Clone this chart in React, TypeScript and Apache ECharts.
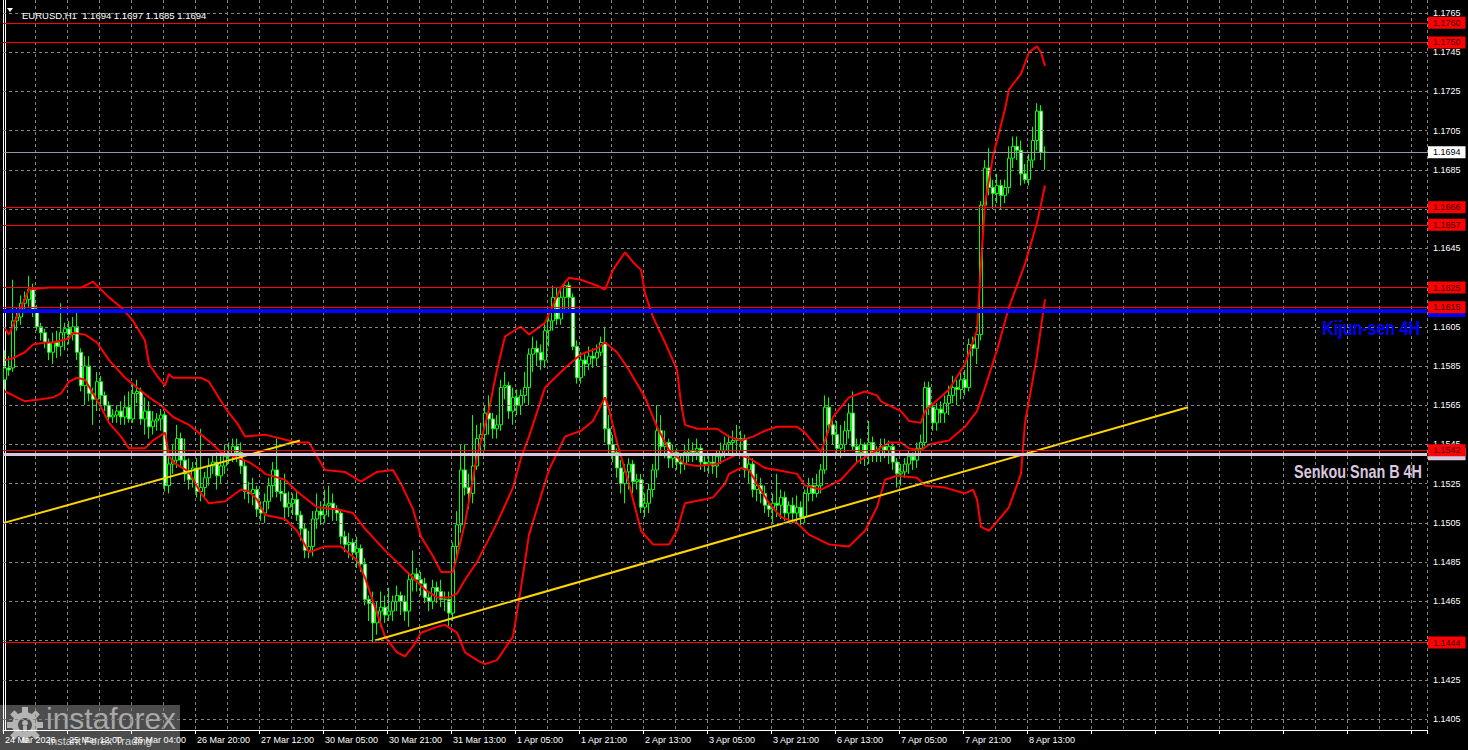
import React, { useEffect, useRef } from "react";
import * as echarts from "echarts";

// Prices are stored in 1/10000 units (e.g. 11584 -> 1.1584), written without the leading "1" => 1584 -> 1.1584
const px = (v: number) => +(1.1 + (v - 1000) / 10000).toFixed(5);

const TITLE = "EURUSD,H1  1.1694 1.1697 1.1685 1.1694";
const BAR_SLOTS = 356;
const TICK_LABELS = [
  "24 Mar 2026", "25 Mar 12:00", "26 Mar 04:00", "26 Mar 20:00", "27 Mar 12:00",
  "30 Mar 05:00", "30 Mar 21:00", "31 Mar 13:00", "1 Apr 05:00", "1 Apr 21:00",
  "2 Apr 13:00", "3 Apr 05:00", "3 Apr 21:00", "6 Apr 13:00", "7 Apr 05:00",
  "7 Apr 21:00", "8 Apr 13:00",
];
const Y_TICKS = [
  1.1405, 1.1425, 1.1445, 1.1465, 1.1485, 1.1505, 1.1525, 1.1545, 1.1565, 1.1585,
  1.1605, 1.1625, 1.1645, 1.1665, 1.1685, 1.1705, 1.1725, 1.1745, 1.1765,
];
const Y_MIN = 1.139939;
const Y_MAX = 1.177163;
const RED_LEVELS = [1.176, 1.175, 1.1666, 1.1657, 1.1625, 1.1615, 1.1542, 1.1444];
const KIJUN = 1.1613;
const SENKOU_B = 1.154;
const LAST_PRICE = 1.1694;

// [open, close, low, high]
const CANDLES = [
  [1578,1584,1573,1593],[1584,1583,1580,1590],[1584,1608,1582,1629],[1608,1610,1603,1615],[1610,1617,1606,1621],
  [1617,1619,1612,1623],[1619,1624,1615,1631],[1624,1613,1610,1627],[1613,1605,1603,1616],[1605,1602,1598,1607],
  [1602,1597,1594,1604],[1597,1592,1588,1599],[1592,1597,1586,1602],[1597,1595,1589,1603],[1595,1602,1590,1617],
  [1602,1604,1593,1607],[1604,1601,1596,1608],[1601,1605,1598,1610],[1605,1592,1588,1612],[1592,1575,1572,1594],
  [1575,1585,1565,1590],[1585,1571,1567,1590],[1571,1568,1555,1574],[1568,1577,1562,1582],[1577,1570,1564,1580],
  [1570,1565,1562,1572],[1565,1559,1556,1567],[1559,1560,1556,1563],[1560,1562,1556,1565],[1562,1559,1555,1567],
  [1559,1564,1555,1570],[1564,1558,1556,1572],[1558,1571,1556,1576],[1571,1572,1566,1578],[1572,1558,1555,1574],
  [1558,1562,1550,1569],[1562,1554,1548,1567],[1554,1557,1550,1562],[1557,1558,1552,1561],[1558,1560,1552,1563],
  [1560,1524,1521,1562],[1524,1535,1520,1540],[1535,1537,1530,1545],[1537,1548,1533,1555],[1548,1537,1533,1551],
  [1537,1530,1526,1548],[1530,1527,1522,1538],[1527,1533,1523,1536],[1533,1521,1518,1538],[1521,1523,1516,1553],
  [1523,1528,1518,1531],[1528,1534,1524,1538],[1534,1536,1530,1540],[1536,1529,1522,1541],[1529,1534,1525,1539],
  [1534,1539,1530,1545],[1539,1540,1535,1546],[1540,1544,1536,1548],[1544,1541,1536,1548],[1541,1534,1530,1546],
  [1534,1521,1517,1537],[1521,1520,1515,1526],[1520,1522,1514,1528],[1522,1512,1508,1524],[1512,1510,1506,1516],
  [1510,1516,1505,1520],[1516,1524,1512,1528],[1524,1532,1518,1536],[1532,1521,1518,1548],[1521,1520,1516,1527],
  [1520,1513,1506,1530],[1513,1515,1508,1521],[1515,1517,1509,1520],[1517,1509,1506,1521],[1509,1502,1496,1511],
  [1502,1491,1487,1505],[1491,1493,1487,1501],[1493,1507,1488,1511],[1507,1511,1502,1520],[1511,1509,1504,1516],
  [1509,1514,1505,1522],[1514,1515,1508,1524],[1515,1512,1506,1520],[1512,1510,1506,1514],[1510,1498,1494,1512],
  [1498,1494,1490,1501],[1494,1495,1487,1500],[1495,1490,1486,1497],[1490,1492,1482,1498],[1492,1484,1480,1494],
  [1484,1466,1463,1487],[1466,1464,1455,1468],[1464,1454,1444,1470],[1454,1460,1448,1465],[1460,1462,1452,1470],
  [1462,1458,1454,1468],[1458,1460,1455,1472],[1460,1465,1455,1468],[1465,1468,1460,1473],[1468,1465,1458,1470],
  [1465,1460,1455,1468],[1460,1476,1452,1480],[1476,1479,1470,1491],[1479,1476,1470,1482],[1476,1474,1468,1480],
  [1474,1467,1464,1477],[1467,1465,1460,1470],[1465,1472,1461,1476],[1472,1470,1464,1475],[1470,1466,1462,1476],
  [1466,1466,1460,1470],[1466,1459,1452,1470],[1459,1493,1455,1495],[1493,1504,1488,1511],[1504,1532,1500,1545],
  [1532,1523,1519,1545],[1523,1520,1512,1530],[1520,1534,1515,1560],[1534,1548,1532,1555],[1548,1550,1540,1556],
  [1550,1561,1542,1565],[1561,1558,1550,1570],[1558,1553,1548,1561],[1553,1555,1548,1560],[1555,1574,1552,1578],
  [1574,1575,1568,1582],[1575,1562,1558,1577],[1562,1569,1555,1574],[1569,1565,1560,1573],[1565,1570,1560,1573],
  [1570,1574,1566,1582],
  [1574,1591,1565,1594],[1591,1594,1582,1600],[1594,1592,1585,1598],[1592,1588,1583,1596],[1588,1603,1584,1607],
  [1603,1608,1595,1612],[1608,1620,1603,1626],[1620,1609,1606,1625],[1609,1620,1606,1624],[1620,1626,1612,1628],
  [1626,1620,1614,1628],[1620,1595,1593,1622],[1595,1579,1576,1598],[1579,1588,1576,1592],[1588,1586,1580,1591],
  [1586,1590,1583,1595],[1590,1589,1584,1594],[1589,1592,1585,1596],[1592,1597,1590,1600],[1597,1553,1546,1605],
  [1553,1545,1540,1560],[1545,1541,1536,1550],[1541,1533,1528,1543],[1533,1525,1520,1537],[1525,1531,1515,1535],
  [1531,1535,1522,1538],[1535,1526,1520,1537],[1526,1527,1522,1530],[1527,1513,1510,1530],[1513,1515,1508,1520],
  [1515,1522,1510,1525],[1522,1532,1518,1535],[1532,1552,1528,1565],[1552,1544,1540,1560],[1544,1546,1538,1552],
  [1546,1538,1533,1548],[1538,1541,1533,1545],[1541,1536,1532,1543],[1536,1535,1530,1540],[1535,1541,1532,1545],
  [1541,1542,1536,1548],[1542,1541,1536,1546],[1541,1543,1537,1548],[1543,1536,1532,1545],[1536,1535,1531,1539],
  [1535,1536,1530,1540],[1536,1534,1530,1540],[1534,1539,1528,1542],[1539,1542,1535,1546],[1542,1545,1538,1549],
  [1545,1546,1540,1550],[1546,1547,1540,1552],[1547,1548,1540,1555],[1548,1548,1542,1552],[1548,1532,1528,1550],
  [1532,1535,1525,1540],[1535,1522,1518,1538],[1522,1524,1516,1530],[1524,1520,1515,1528],[1520,1514,1510,1524],
  [1514,1512,1508,1516],[1512,1515,1505,1520],[1515,1514,1508,1530],[1514,1518,1507,1522],[1518,1510,1506,1521],
  [1510,1514,1505,1516],
  [1514,1510,1505,1518],[1510,1513,1505,1519],[1513,1508,1503,1516],[1508,1520,1505,1522],[1520,1524,1516,1528],
  [1524,1520,1516,1528],[1520,1524,1518,1530],[1524,1532,1520,1535],[1532,1564,1530,1570],[1564,1555,1551,1569],
  [1555,1550,1545,1559],[1550,1543,1540,1557],[1543,1545,1538,1555],[1545,1552,1541,1557],[1552,1561,1548,1566],
  [1561,1544,1542,1572],[1544,1541,1536,1548],[1541,1545,1535,1548],[1545,1540,1534,1546],[1540,1546,1535,1557],
  [1546,1541,1536,1549],[1541,1540,1536,1544],[1540,1544,1536,1548],[1544,1542,1538,1548],[1542,1544,1535,1547],
  [1544,1536,1532,1546],[1536,1530,1523,1538],[1530,1531,1524,1535],[1531,1535,1528,1538],[1535,1539,1530,1542],
  [1539,1537,1532,1541],[1537,1543,1533,1546],[1543,1546,1540,1550],[1546,1574,1544,1577],[1574,1564,1560,1577],
  [1564,1556,1552,1566],[1556,1563,1552,1566],[1563,1561,1556,1567],[1561,1566,1556,1570],[1566,1570,1560,1575],
  [1570,1574,1566,1580],[1574,1573,1565,1578],[1573,1578,1568,1582],[1578,1574,1570,1583],[1574,1596,1572,1599],
  [1596,1594,1590,1600],[1594,1601,1586,1605],[1601,1667,1598,1669],[1667,1686,1660,1690],[1686,1676,1672,1696],
  [1676,1673,1665,1680],[1673,1677,1668,1683],[1677,1672,1665,1680],[1672,1676,1668,1680],[1676,1691,1673,1697],
  [1691,1697,1686,1702],[1697,1695,1690,1702],[1695,1683,1677,1700],[1683,1680,1678,1688],[1680,1690,1677,1693],
  [1690,1700,1686,1707],[1700,1715,1695,1719],[1715,1694,1690,1718],[1694,1694,1685,1697],
];

// Bollinger bands: [bar index, price in same units]
const BB_UPPER = [
  [0,1604],[1,1601],[6,1624],[11,1625],[19,1625],[22,1628],[26,1620],[29,1615],[32,1608],[35,1598],
  [36,1586],[38,1580],[40,1575],[41,1581],[42,1579],[49,1579],[51,1577],[54,1567],[56,1561],[58,1556],
  [60,1549],[65,1550],[73,1546],[76,1546],[78,1539],[80,1532],[85,1531],[89,1526],[93,1531],[97,1532],
  [99,1525],[102,1512],[104,1498],[107,1488],[109,1480],[112,1480],[113,1488],[115,1505],[118,1539],[121,1563],
  [123,1583],[125,1600],[128,1604],[129,1605],[131,1601],[135,1607],[139,1625],[141,1630],[144,1629],[148,1626],
  [150,1624],[152,1634],[155,1643],[157,1638],[159,1634],[160,1622],[162,1610],[165,1597],[168,1583],[169,1566],
  [170,1555],[173,1553],[178,1553],[181,1549],[184,1547],[187,1549],[190,1552],[193,1554],[198,1554],[200,1551],
  [204,1541],[207,1559],[211,1569],[215,1572],[218,1570],[219,1567],[224,1562],[226,1557],[229,1556],[230,1562],
  [236,1573],[240,1586],[243,1603],[244,1637],[245,1668],[247,1692],[250,1716],[251,1726],[254,1734],[256,1745],
  [258,1748],[259,1745],[260,1738],
];
const BB_MIDDLE = [
  [0,1588],[2,1589],[5,1592],[7,1596],[10,1597],[12,1597],[16,1599],[17,1602],[20,1601],[23,1597],
  [26,1588],[30,1579],[33,1574],[36,1569],[39,1565],[42,1559],[46,1555],[49,1550],[52,1545],[54,1541],
  [57,1539],[61,1536],[64,1532],[65,1530],[70,1527],[73,1521],[78,1513],[83,1512],[87,1510],[90,1502],
  [95,1491],[98,1485],[102,1477],[105,1471],[108,1467],[111,1467],[113,1469],[115,1476],[118,1485],[123,1505],
  [127,1523],[129,1538],[131,1549],[135,1574],[140,1584],[144,1591],[148,1594],[150,1597],[153,1592],[156,1583],
  [160,1569],[163,1554],[166,1542],[170,1535],[173,1534],[178,1535],[181,1538],[183,1540],[186,1538],[190,1533],
  [193,1532],[198,1530],[200,1524],[204,1522],[209,1527],[213,1536],[217,1541],[221,1546],[224,1546],[226,1543],
  [229,1542],[231,1545],[236,1547],[240,1554],[243,1562],[245,1574],[248,1593],[251,1615],[255,1637],[258,1658],
  [260,1677],
];
const BB_LOWER = [
  [0,1572],[2,1570],[5,1567],[9,1568],[12,1569],[14,1571],[16,1577],[18,1579],[20,1578],[22,1571],
  [24,1564],[26,1556],[29,1549],[31,1543],[35,1543],[37,1547],[40,1551],[41,1539],[42,1536],[46,1531],
  [49,1520],[51,1515],[55,1516],[59,1522],[61,1521],[63,1517],[65,1509],[70,1507],[73,1501],[76,1490],
  [80,1493],[84,1493],[88,1486],[90,1477],[95,1447],[98,1439],[100,1437],[102,1442],[104,1449],[108,1452],
  [110,1453],[113,1449],[115,1439],[118,1435],[120,1433],[123,1435],[127,1447],[129,1472],[131,1499],[136,1532],
  [140,1549],[144,1552],[147,1557],[150,1569],[151,1563],[153,1546],[156,1525],[159,1501],[162,1494],[166,1494],
  [168,1501],[170,1515],[175,1517],[177,1518],[180,1525],[181,1530],[184,1533],[186,1532],[188,1525],[191,1515],
  [194,1508],[198,1505],[201,1499],[206,1494],[211,1493],[215,1501],[218,1513],[220,1527],[223,1529],[228,1528],
  [230,1524],[235,1523],[240,1520],[242,1522],[243,1517],[244,1503],[246,1501],[249,1508],[251,1513],[254,1530],
  [255,1556],[258,1590],[259,1605],[260,1619],
];

// Trend lines: [bar position, price]
const TREND_1 = [[-0.25, 1.1505], [73.75, 1.1547]];
const TREND_2 = [[92.5, 1.1445], [295.75, 1.1564]];

const FONT = "'Liberation Sans', Arial, sans-serif";
const FS = 9;

export default function App() {
  const ref = useRef<HTMLDivElement>(null);

  useEffect(() => {
    document.body.style.margin = "0";
    document.body.style.background = "#000";
    const chart = echarts.init(ref.current!, undefined, { renderer: "svg" });

    const categories = Array.from({ length: BAR_SLOTS }, (_, i) => String(i));
    const bandSeries = (data: number[][]) => ({
      type: "line",
      xAxisIndex: 1,
      yAxisIndex: 0,
      data: data.map(([i, v]) => [i, px(v)]),
      showSymbol: false,
      symbol: "none",
      lineStyle: { color: "#ff0000", width: 2 },
      z: 3,
      silent: true,
    });
    const trendSeries = (data: number[][]) => ({
      type: "line",
      xAxisIndex: 1,
      yAxisIndex: 0,
      data,
      showSymbol: false,
      symbol: "none",
      lineStyle: { color: "#ffd500", width: 2 },
      z: 3,
      silent: true,
    });
    const tagLabel = (bg: string, color: string, text: string) => ({
      show: true,
      position: "end",
      distance: 1,
      backgroundColor: bg,
      color,
      padding: [2, 5, 1, 5],
      fontSize: FS,
      lineHeight: 9,
      fontFamily: FONT,
      formatter: text,
    });

    chart.setOption({
      animation: false,
      backgroundColor: "#000000",
      title: {
        text: TITLE,
        left: 17,
        top: 5,
        textStyle: { color: "#ffffff", fontSize: 9.5, fontWeight: "normal", fontFamily: FONT },
      },
      grid: { left: 3, right: 41, top: 0, bottom: 20 },
      xAxis: [
        {
          type: "category",
          data: categories,
          boundaryGap: true,
          axisLine: { show: true, lineStyle: { color: "#ffffff", width: 1 } },
          axisTick: {
            show: true,
            interval: 15,
            length: 4,
            lineStyle: { color: "#ffffff" },
          },
          axisLabel: {
            interval: 15,
            formatter: (_v: string, idx: number) => (idx % 16 === 0 ? TICK_LABELS[idx / 16] || "" : ""),
            color: "#ffffff",
            fontSize: FS,
            fontFamily: FONT,
            align: "left",
            margin: 5,
          },
          splitLine: {
            show: true,
            interval: 7,
            lineStyle: { color: "#858585", width: 1, type: [3, 3] },
          },
        },
        { type: "value", min: -0.5, max: BAR_SLOTS - 0.5, show: false },
      ],
      yAxis: [
        {
          type: "value",
          min: Y_MIN,
          max: Y_MAX,
          position: "right",
          axisLine: { show: true, lineStyle: { color: "#ffffff", width: 1 } },
          axisTick: { show: false },
          axisLabel: { show: false },
          splitLine: { show: false },
        },
        {
          type: "value",
          min: Y_MIN,
          max: Y_MAX,
          position: "left",
          axisLine: { show: true, lineStyle: { color: "#ffffff", width: 1 } },
          axisTick: { show: false },
          axisLabel: { show: false },
          splitLine: { show: false },
        },
      ],
      series: [
        {
          type: "line",
          xAxisIndex: 1,
          yAxisIndex: 0,
          data: [],
          z: 1,
          clip: false,
          silent: true,
          markLine: {
            silent: true,
            precision: 5,
            symbol: ["none", "none"],
            animation: false,
            lineStyle: { color: "#858585", width: 1, type: [3, 3] },
            label: {
              show: true,
              position: "end",
              distance: 6,
              color: "#ffffff",
              fontSize: FS,
              fontFamily: FONT,
              formatter: (p: any) => Number(p.value).toFixed(4),
            },
            data: Y_TICKS.map((v) => ({ yAxis: v })),
          },
        },
        {
          type: "candlestick",
          xAxisIndex: 0,
          yAxisIndex: 0,
          data: CANDLES.map((c) => c.map(px)),
          barWidth: 3,
          z: 2,
          silent: true,
          itemStyle: {
            color: "#000000",
            color0: "#eaffea",
            borderColor: "#00ff00",
            borderColor0: "#00ff00",
            borderWidth: 1,
          },
        },
        bandSeries(BB_UPPER),
        bandSeries(BB_MIDDLE),
        bandSeries(BB_LOWER),
        trendSeries(TREND_1),
        trendSeries(TREND_2),
        {
          type: "line",
          xAxisIndex: 1,
          yAxisIndex: 0,
          data: [],
          z: 4,
          clip: false,
          silent: true,
          markLine: {
            silent: true,
            precision: 5,
            symbol: ["none", "none"],
            animation: false,
            data: [
              {
                yAxis: KIJUN,
                lineStyle: { color: "#0000ff", width: 4, type: "solid" },
                label: tagLabel("#0000ff", "#000080", KIJUN.toFixed(4)),
              },
              {
                yAxis: SENKOU_B,
                lineStyle: { color: "#d8c6dd", width: 3, type: "solid" },
                label: tagLabel("#d8c6dd", "#d8c6dd", SENKOU_B.toFixed(4)),
              },
              {
                yAxis: LAST_PRICE,
                lineStyle: { color: "#8f9aa8", width: 1, type: "solid" },
                label: tagLabel("#ffffff", "#000000", LAST_PRICE.toFixed(4)),
              },
            ],
          },
        },
        {
          type: "line",
          xAxisIndex: 1,
          yAxisIndex: 0,
          data: [],
          z: 5,
          clip: false,
          silent: true,
          markLine: {
            silent: true,
            precision: 5,
            symbol: ["none", "none"],
            animation: false,
            lineStyle: { color: "#ff0000", width: 1, type: "solid" },
            data: RED_LEVELS.map((v) => ({
              yAxis: v,
              label: tagLabel("#ff0000", "#3a0000", v.toFixed(4)),
            })),
          },
        },
      ],
      graphic: [
        {
          type: "polygon",
          shape: { points: [[7, 8], [13, 8], [10, 12]] },
          style: { fill: "#ffffff" },
          z: 10,
        },
        {
          type: "text",
          x: 1420,
          y: 328,
          scaleX: 0.8,
          z: 20,
          style: {
            text: "Kijun-sen 4H",
            fill: "#0000ff",
            font: "bold 20px 'Liberation Sans', Arial, sans-serif",
            textAlign: "right",
            textVerticalAlign: "middle",
          },
        },
        {
          type: "text",
          x: 1422,
          y: 471,
          scaleX: 0.8,
          z: 20,
          style: {
            text: "Senkou Snan B 4H",
            fill: "#d8c6dd",
            font: "bold 18px 'Liberation Sans', Arial, sans-serif",
            textAlign: "right",
            textVerticalAlign: "middle",
          },
        },
        {
          type: "group",
          z: 100,
          children: [
            {
              type: "rect",
              shape: { x: 0, y: 705, width: 180, height: 45 },
              style: { fill: "rgba(88,88,88,0.86)" },
            },
            {
              type: "group",
              x: 25,
              y: 725,
              children: [
                { type: "ring", shape: { cx: 0, cy: 0, r: 13, r0: 7 }, style: { fill: "#b4b4b4" } },
                ...[0, 1, 2, 3, 4, 5, 6, 7].map((k) => ({
                  type: "rect",
                  shape: { x: -3, y: -18, width: 6, height: 6 },
                  rotation: (k * Math.PI) / 4,
                  style: { fill: "#b4b4b4" },
                })),
                { type: "circle", shape: { cx: 0, cy: -2, r: 3 }, style: { fill: "#b4b4b4" } },
                { type: "rect", shape: { x: -2, y: 1, width: 4, height: 7 }, style: { fill: "#b4b4b4" } },
              ],
            },
            {
              type: "text",
              x: 46,
              y: 703,
              style: {
                text: "instaforex",
                fill: "#a9a9a9",
                font: "30px 'Liberation Sans', Arial, sans-serif",
              },
            },
            {
              type: "text",
              x: 48,
              y: 735,
              style: {
                text: "Instant Forex Trading",
                fill: "#d4d4d4",
                font: "11px 'Liberation Sans', Arial, sans-serif",
              },
            },
          ],
        },
      ],
    });

    return () => chart.dispose();
  }, []);

  return (
    <div
      ref={ref}
      style={{ position: "fixed", left: 0, top: 0, width: 1468, height: 750, background: "#000" }}
    />
  );
}
